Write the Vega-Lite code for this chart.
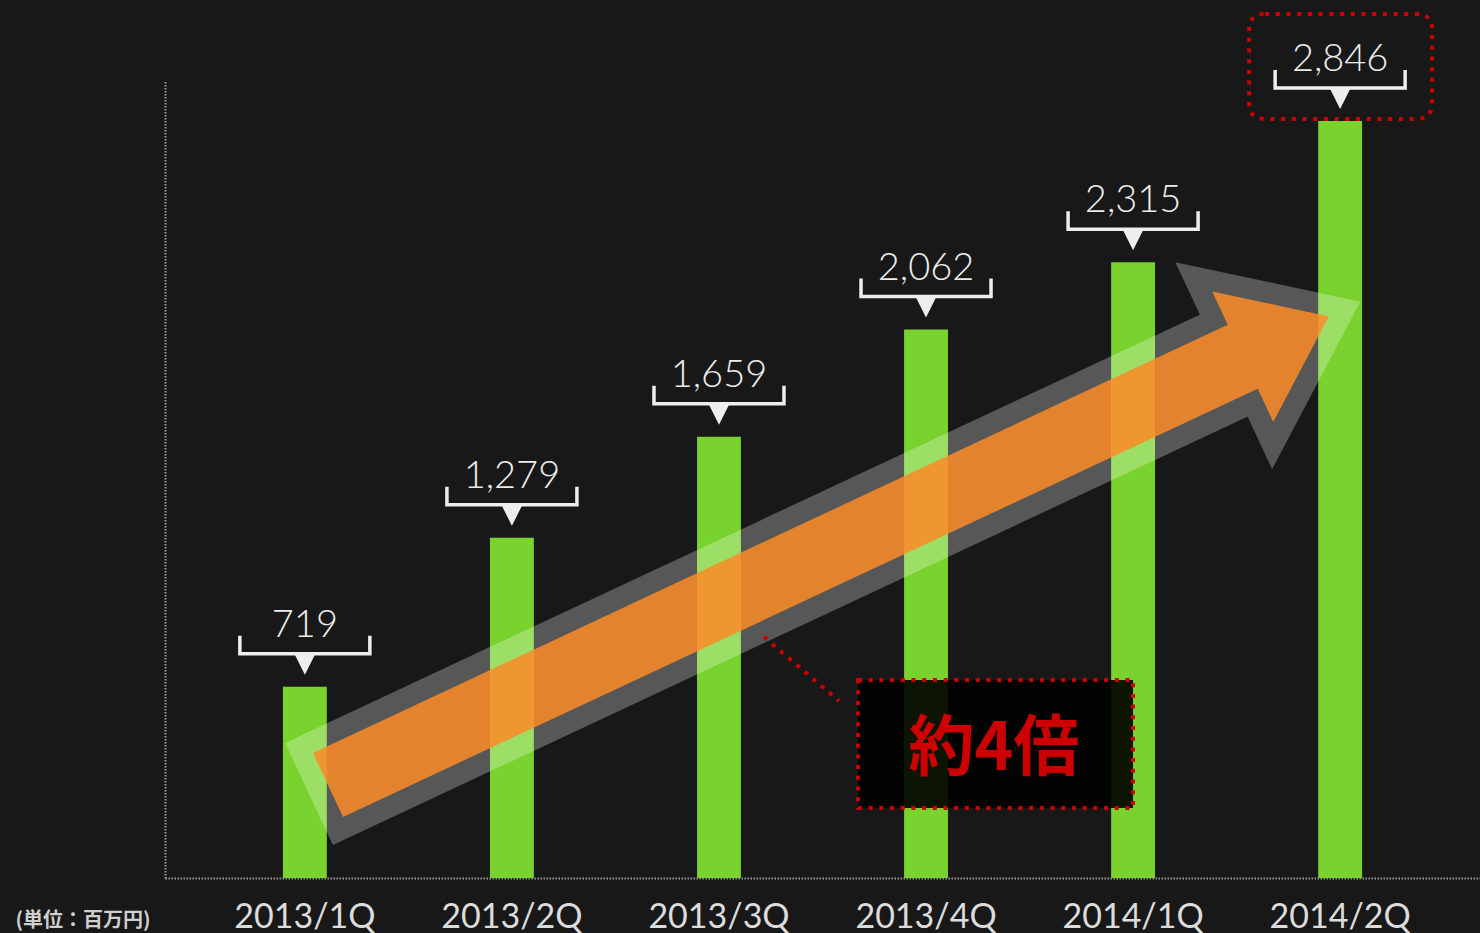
{
  "$schema": "https://vega.github.io/schema/vega-lite/v6.json",
  "autosize": {"type": "none"},
  "width": 1315,
  "height": 798,
  "padding": {"left": 165, "top": 80, "right": 0, "bottom": 55},
  "background": "#181818",
  "config": {"view": {"stroke": null}},
  "data": {
    "values": [
      {"q": "2013/1Q", "v": 719},
      {"q": "2013/2Q", "v": 1279},
      {"q": "2013/3Q", "v": 1659},
      {"q": "2013/4Q", "v": 2062},
      {"q": "2014/1Q", "v": 2315},
      {"q": "2014/2Q", "v": 2846}
    ]
  },
  "encoding": {
    "x": {
      "field": "q", "type": "nominal", "sort": null,
      "scale": {"paddingInner": 0.788, "paddingOuter": 0.5695},
      "axis": {
        "title": null, "labelAngle": 0, "ticks": false, "labelPadding": 49,
        "labelBaseline": "alphabetic", "labelFont": "Lato", "labelFontSize": 34,
        "labelColor": "#dcdcdc", "domainColor": "#9a9a9a", "domainWidth": 2,
        "domainDash": [1.5, 1.5]
      }
    },
    "y": {
      "field": "v", "type": "quantitative",
      "scale": {"domain": [0, 3000], "nice": false},
      "axis": {
        "labels": false, "ticks": false, "grid": false,
        "domainColor": "#9a9a9a", "domainWidth": 2, "domainDash": [1.5, 1.5],
        "title": "(単位：百万円)", "titleAngle": 0, "titleAlign": "left",
        "titleBaseline": "middle", "titleX": -150, "titleY": 840,
        "titleFont": "Noto Sans CJK JP", "titleFontSize": 20,
        "titleFontWeight": "bold", "titleColor": "#cfcfcf"
      }
    }
  },
  "layer": [
    {"mark": {"type": "bar", "color": "#79D22D"}},
    {
      "transform": [{"filter": "datum.q == '2013/4Q'"}],
      "mark": {
        "type": "point", "filled": true, "size": 4,
        "shape": "M-613,-125 L301.7,-553.3 L286.2,-586.5 L402.7,-561.6 L347.2,-456.1 L331.7,-489.3 L-583,-61 Z",
        "fill": "#ffffff", "stroke": "#ffffff",
        "strokeWidth": 42, "strokeJoin": "miter", "opacity": 0.27
      },
      "encoding": {"y": {"datum": 0}}
    },
    {
      "transform": [{"filter": "datum.q == '2013/4Q'"}],
      "mark": {
        "type": "point", "filled": true, "size": 4,
        "shape": "M-613,-125 L301.7,-553.3 L286.2,-586.5 L402.7,-561.6 L347.2,-456.1 L331.7,-489.3 L-583,-61 Z",
        "fill": "#FD8B27", "strokeWidth": 0, "opacity": 0.85
      },
      "encoding": {"y": {"datum": 0}}
    },
    {
      "mark": {
        "type": "point", "filled": false, "size": 4,
        "shape": "M-65,-51 L-65,-33 L65,-33 L65,-51",
        "fill": null, "stroke": "#eeeeee", "strokeWidth": 3.5, "opacity": 1
      }
    },
    {
      "mark": {
        "type": "point", "filled": true, "size": 4,
        "shape": "M-11,-34 L11,-34 L0,-12 Z",
        "fill": "#eeeeee", "strokeWidth": 0, "opacity": 1
      }
    },
    {
      "mark": {
        "type": "text", "dy": -50, "baseline": "alphabetic",
        "font": "Lato", "fontWeight": 300, "fontSize": 38, "color": "#ececec"
      },
      "encoding": {"text": {"field": "v", "type": "quantitative", "format": ",d"}}
    },
    {
      "transform": [{"filter": "datum.q == '2013/4Q'"}],
      "mark": {
        "type": "point", "filled": true, "size": 4,
        "shape": "M-68,-198 L207,-198 L207,-70 L-68,-70 Z M-162,-241 L-87,-177",
        "fill": "#000000", "fillOpacity": 0.9, "stroke": "#CC0000",
        "strokeWidth": 4, "strokeDash": [4, 6.7], "strokeOpacity": 1, "opacity": 1
      },
      "encoding": {"y": {"datum": 0}}
    },
    {
      "transform": [{"filter": "datum.q == '2013/4Q'"}],
      "mark": {
        "type": "text", "text": "約4倍", "dx": 68, "dy": -128,
        "baseline": "middle", "align": "center",
        "font": "Noto Sans CJK JP", "fontWeight": "bold", "fontSize": 66, "color": "#CC0000"
      },
      "encoding": {"y": {"datum": 0}}
    },
    {
      "transform": [{"filter": "datum.q == '2014/2Q'"}],
      "mark": {
        "type": "point", "filled": false, "size": 4,
        "shape": "M-75,-107 L76,-107 Q92,-107 92,-91 L92,-18 Q92,-2 76,-2 L-75,-2 Q-91,-2 -91,-18 L-91,-91 Q-91,-107 -75,-107 Z",
        "fill": null, "stroke": "#CC0000", "strokeWidth": 4,
        "strokeDash": [4, 6.7], "opacity": 1
      }
    }
  ]
}
